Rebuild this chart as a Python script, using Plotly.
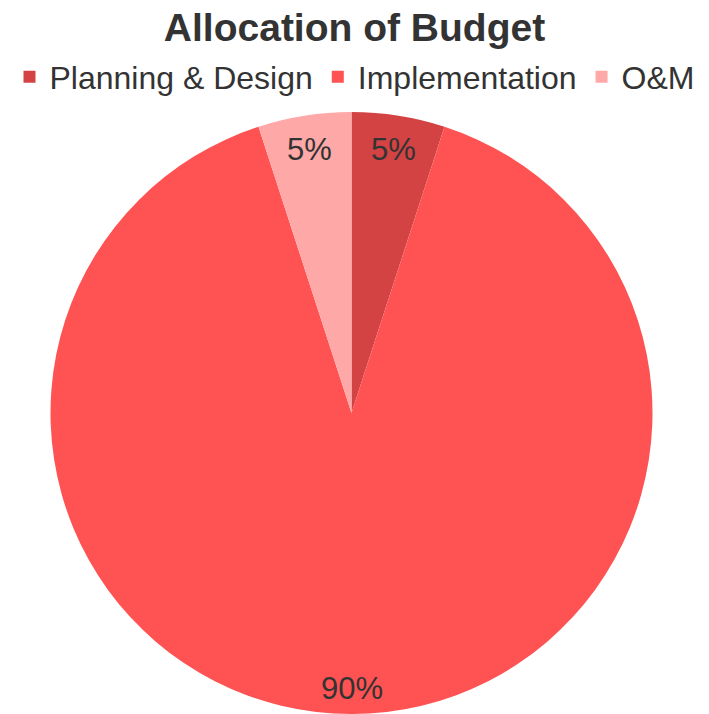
import math
import plotly.graph_objects as go

# Budget split
categories = ["Planning & Design", "Implementation", "O&M"]
shares = [5, 90, 5]
colors = ["#D44343", "#FF5252", "#FFA8A8"]

W, H = 709, 714
cx, cy, R = 351.5, 413, 301  # pie centre and radius in pixels

FONT = "Liberation Sans, Arial, sans-serif"

fig = go.Figure(
    go.Pie(
        labels=categories,
        values=shares,
        sort=False,
        direction="clockwise",
        rotation=0,
        marker=dict(colors=colors, line=dict(width=0)),
        textinfo="none",
        hoverinfo="label+percent",
        domain=dict(x=[(cx - R) / W, (cx + R) / W], y=[(H - cy - R) / H, (H - cy + R) / H]),
    )
)

# Percent labels placed near the outer edge of each slice
total = sum(shares)
acc = 0
annotations = []
for v in shares:
    mid = (acc + v / 2) / total * 2 * math.pi
    acc += v
    r = 0.885 * R if v / total < 0.5 else 0.915 * R
    px = cx + r * math.sin(mid)
    py = cy - r * math.cos(mid)
    annotations.append(
        dict(
            x=px / W, y=1 - py / H, xref="paper", yref="paper",
            text=f"{round(v / total * 100)}%", showarrow=False,
            font=dict(family=FONT, size=31, color="#333333"),
            xanchor="center", yanchor="middle",
        )
    )

fig.update_layout(
    width=W, height=H,
    margin=dict(l=0, r=0, t=0, b=0),
    paper_bgcolor="white",
    plot_bgcolor="white",
    title=dict(
        text="<b>Allocation of Budget</b>",
        x=0.5, xanchor="center", y=1 - 27 / H, yanchor="middle",
        font=dict(family=FONT, size=39, color="#333333"),
    ),
    legend=dict(
        orientation="h", x=0.5, xanchor="center", y=1 - 77 / H, yanchor="middle",
        font=dict(family=FONT, size=32, color="#333333"),
        itemwidth=30, traceorder="normal",
    ),
    annotations=annotations,
)

fig.write_html("out.html")
